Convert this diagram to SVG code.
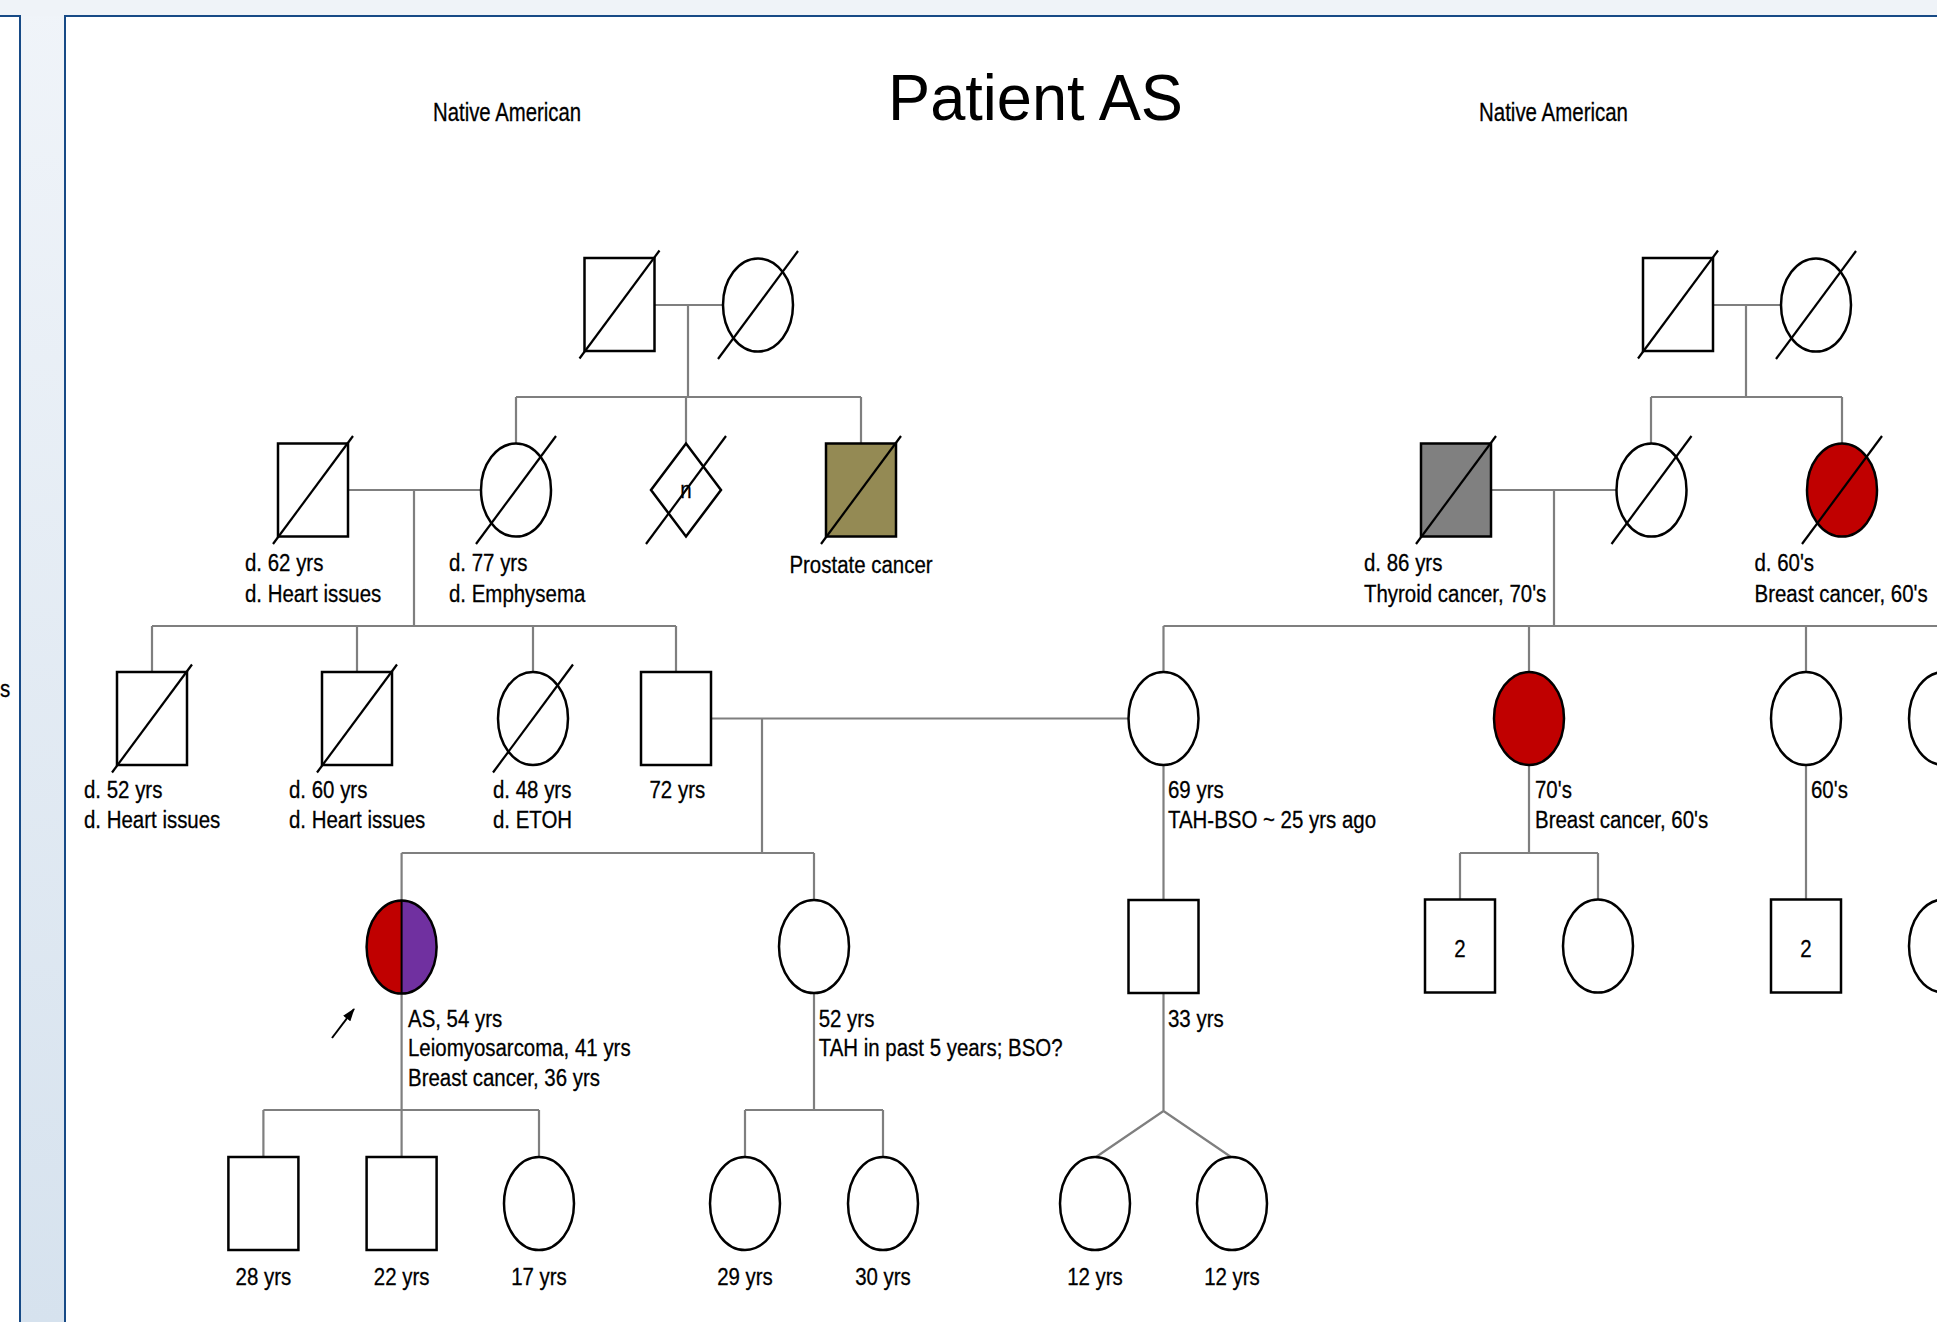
<svg xmlns="http://www.w3.org/2000/svg" xmlns:xlink="http://www.w3.org/1999/xlink" width="1937" height="1322" viewBox="0 0 1937 1322">
<defs>
<style>
.sym{fill:#fff;stroke:#000;stroke-width:2.5}
.sl{stroke:#000;stroke-width:2.2;fill:none}
.cn{stroke:#7f7f7f;stroke-width:2.2;fill:none}
.t{font-family:"Liberation Sans",Arial,sans-serif;font-size:24.5px;fill:#000;stroke:#000;stroke-width:0.3}
.tc{font-family:"Liberation Sans",Arial,sans-serif;font-size:24.5px;fill:#000;stroke:#000;stroke-width:0.3;text-anchor:middle}
</style>
<linearGradient id="bg" x1="0" y1="0" x2="0" y2="1">
<stop offset="0" stop-color="#f0f4f9"/>
<stop offset="1" stop-color="#d6e2ee"/>
</linearGradient>
<line id="slash" x1="-40" y1="54" x2="40" y2="-54" class="sl"/>
<rect id="sq" x="-35" y="-46.5" width="70" height="93"/>
<ellipse id="ci" rx="35" ry="46.5"/>
<marker id="ah" markerWidth="13" markerHeight="9" refX="12" refY="4.5" orient="auto" markerUnits="userSpaceOnUse">
<path d="M0,0 L13,4.5 L0,9 Z" fill="#000"/>
</marker>
</defs>

<!-- background -->
<rect x="0" y="0" width="1937" height="1322" fill="url(#bg)"/>
<rect x="0" y="0" width="1937" height="16" fill="#eff3f8"/>
<rect x="-10" y="16" width="30" height="1320" fill="#fff" stroke="#174a86" stroke-width="2"/>
<rect x="65" y="16" width="1890" height="1320" fill="#fff" stroke="#174a86" stroke-width="2"/>
<text class="t" transform="translate(0,697) scale(0.835,1)">s</text>

<!-- titles -->
<text x="888" y="120" font-family="Liberation Sans, Arial, sans-serif" font-size="65" textLength="295" lengthAdjust="spacingAndGlyphs">Patient AS</text>
<text x="433" y="121" font-family="Liberation Sans, Arial, sans-serif" font-size="26" stroke="#000" stroke-width="0.3" textLength="148" lengthAdjust="spacingAndGlyphs">Native American</text>
<text x="1479" y="121" font-family="Liberation Sans, Arial, sans-serif" font-size="26" stroke="#000" stroke-width="0.3" textLength="149" lengthAdjust="spacingAndGlyphs">Native American</text>

<!-- connectors -->
<g id="connectors">
<path class="cn" d="M654,305H723 M688,305V397 M516,397H861 M516,397V443 M686,397V443 M861,397V443"/>
<path class="cn" d="M1713,305H1781 M1746,305V397 M1651,397H1842 M1651,397V443 M1842,397V443"/>
<path class="cn" d="M348,490H481 M414,490V626 M152,626H676 M152,626V672 M357,626V672 M533,626V672 M676,626V672"/>
<path class="cn" d="M1491,490H1617 M1554,490V626 M1163.5,626H1950 M1163.5,626V672 M1529,626V672 M1806,626V672 M1944,626V672"/>
<path class="cn" d="M711,718.5H1128.5 M762,718.5V853 M401.6,853H814 M401.6,853V1157 M814,853V900"/>
<path class="cn" d="M1163.5,765V900"/>
<path class="cn" d="M1529,765V853 M1460,853H1598 M1460,853V899 M1598,853V899 M1806,765V899 M1944,765V899"/>
<path class="cn" d="M263.4,1110H539 M263.4,1110V1157 M539,1110V1157"/>
<path class="cn" d="M814,993V1110 M745,1110H883 M745,1110V1157 M883,1110V1157"/>
<path class="cn" d="M1163.5,993V1111 M1163.5,1111L1096,1157 M1163.5,1111L1231,1157"/>
<line x1="332" y1="1038" x2="354" y2="1009" stroke="#000" stroke-width="2" marker-end="url(#ah)"/>
</g>

<!-- Generation I -->
<g id="gf_left"><g transform="translate(619.5,304.5)"><use href="#sq" class="sym"/><use href="#slash"/></g></g>
<g id="gm_left"><g transform="translate(758,305)"><use href="#ci" class="sym"/><use href="#slash"/></g></g>
<g id="gf_right"><g transform="translate(1678,304.5)"><use href="#sq" class="sym"/><use href="#slash"/></g></g>
<g id="gm_right"><g transform="translate(1816,305)"><use href="#ci" class="sym"/><use href="#slash"/></g></g>

<!-- Generation II -->
<g id="pgf"><g transform="translate(313,490)"><use href="#sq" class="sym"/><use href="#slash"/></g>
<text class="t" transform="translate(245,571) scale(0.835,1)"><tspan x="0">d. 62 yrs</tspan><tspan x="0" dy="31">d. Heart issues</tspan></text></g>
<g id="pgm"><g transform="translate(516,490)"><use href="#ci" class="sym"/><use href="#slash"/></g>
<text class="t" transform="translate(449,571) scale(0.835,1)"><tspan x="0">d. 77 yrs</tspan><tspan x="0" dy="31">d. Emphysema</tspan></text></g>
<g id="sib_n"><g transform="translate(686,490)"><path d="M0,-46.5L35,0L0,46.5L-35,0Z" class="sym"/><use href="#slash"/></g>
<text class="tc" transform="translate(686,498) scale(0.835,1)">n</text></g>
<g id="prostate"><g transform="translate(861,490)"><use href="#sq" class="sym" style="fill:#948a54"/><use href="#slash"/></g>
<text class="tc" transform="translate(861,573) scale(0.835,1)">Prostate cancer</text></g>

<g id="mgf"><g transform="translate(1456,490)"><use href="#sq" class="sym" style="fill:#808080"/><use href="#slash"/></g>
<text class="t" transform="translate(1364,571) scale(0.835,1)"><tspan x="0">d. 86 yrs</tspan><tspan x="0" dy="31">Thyroid cancer, 70's</tspan></text></g>
<g id="mgm"><g transform="translate(1651.5,490)"><use href="#ci" class="sym"/><use href="#slash"/></g></g>
<g id="ggaunt"><g transform="translate(1842,490)"><use href="#ci" class="sym" style="fill:#c00000"/><use href="#slash"/></g>
<text class="t" transform="translate(1754.5,571) scale(0.835,1)"><tspan x="0">d. 60's</tspan><tspan x="0" dy="31">Breast cancer, 60's</tspan></text></g>

<!-- Generation III -->
<g id="uncle1"><g transform="translate(152,718.5)"><use href="#sq" class="sym"/><use href="#slash"/></g>
<text class="t" transform="translate(84,798) scale(0.835,1)"><tspan x="0">d. 52 yrs</tspan><tspan x="0" dy="30">d. Heart issues</tspan></text></g>
<g id="uncle2"><g transform="translate(357,718.5)"><use href="#sq" class="sym"/><use href="#slash"/></g>
<text class="t" transform="translate(289,798) scale(0.835,1)"><tspan x="0">d. 60 yrs</tspan><tspan x="0" dy="30">d. Heart issues</tspan></text></g>
<g id="aunt_p"><g transform="translate(533,718.5)"><use href="#ci" class="sym"/><use href="#slash"/></g>
<text class="t" transform="translate(493,798) scale(0.835,1)"><tspan x="0">d. 48 yrs</tspan><tspan x="0" dy="30">d. ETOH</tspan></text></g>
<g id="father"><g transform="translate(676,718.5)"><use href="#sq" class="sym"/></g>
<text class="t" transform="translate(649.5,798) scale(0.835,1)">72 yrs</text></g>
<g id="mother"><g transform="translate(1163.5,718.5)"><use href="#ci" class="sym"/></g>
<text class="t" transform="translate(1168,798) scale(0.835,1)"><tspan x="0">69 yrs</tspan><tspan x="0" dy="30">TAH-BSO ~ 25 yrs ago</tspan></text></g>
<g id="aunt_m1"><g transform="translate(1529,718.5)"><use href="#ci" class="sym" style="fill:#c00000"/></g>
<text class="t" transform="translate(1535,798) scale(0.835,1)"><tspan x="0">70's</tspan><tspan x="0" dy="30">Breast cancer, 60's</tspan></text></g>
<g id="aunt_m2"><g transform="translate(1806,718.5)"><use href="#ci" class="sym"/></g>
<text class="t" transform="translate(1811,798) scale(0.835,1)">60's</text></g>
<g id="aunt_m3"><g transform="translate(1944,718.5)"><use href="#ci" class="sym"/></g></g>

<!-- Generation IV -->
<g id="proband">
<path d="M401.6,900.5 A35,46.5 0 0 0 401.6,993.5 Z" fill="#c00000"/>
<path d="M401.6,900.5 A35,46.5 0 0 1 401.6,993.5 Z" fill="#7030a0"/>
<ellipse cx="401.6" cy="947" rx="35" ry="46.5" fill="none" stroke="#000" stroke-width="2.5"/>
<line x1="401.6" y1="900.5" x2="401.6" y2="993.5" stroke="#000" stroke-width="2"/>
<text class="t" transform="translate(408,1027) scale(0.835,1)"><tspan x="0">AS, 54 yrs</tspan><tspan x="0" dy="29.5">Leiomyosarcoma, 41 yrs</tspan><tspan x="0" dy="29.5">Breast cancer, 36 yrs</tspan></text></g>
<g id="sister"><g transform="translate(814,946.5)"><use href="#ci" class="sym"/></g>
<text class="t" transform="translate(818.7,1027) scale(0.835,1)"><tspan x="0">52 yrs</tspan><tspan x="0" dy="29.5">TAH in past 5 years; BSO?</tspan></text></g>
<g id="halfbrother"><g transform="translate(1163.5,946.5)"><use href="#sq" class="sym"/></g>
<text class="t" transform="translate(1168,1027) scale(0.835,1)">33 yrs</text></g>
<g id="cousins1"><g transform="translate(1460,946)"><use href="#sq" class="sym"/></g>
<text class="tc" transform="translate(1460,957) scale(0.835,1)">2</text></g>
<g id="cousin2"><g transform="translate(1598,946)"><use href="#ci" class="sym"/></g></g>
<g id="cousins3"><g transform="translate(1806,946)"><use href="#sq" class="sym"/></g>
<text class="tc" transform="translate(1806,957) scale(0.835,1)">2</text></g>
<g id="cousin4"><g transform="translate(1944,946)"><use href="#ci" class="sym"/></g></g>

<!-- Generation V -->
<g id="son1"><g transform="translate(263.4,1203.5)"><use href="#sq" class="sym"/></g>
<text class="tc" transform="translate(263.4,1285) scale(0.835,1)">28 yrs</text></g>
<g id="son2"><g transform="translate(401.6,1203.5)"><use href="#sq" class="sym"/></g>
<text class="tc" transform="translate(401.6,1285) scale(0.835,1)">22 yrs</text></g>
<g id="daughter"><g transform="translate(539,1203.5)"><use href="#ci" class="sym"/></g>
<text class="tc" transform="translate(539,1285) scale(0.835,1)">17 yrs</text></g>
<g id="niece1"><g transform="translate(745,1203.5)"><use href="#ci" class="sym"/></g>
<text class="tc" transform="translate(745,1285) scale(0.835,1)">29 yrs</text></g>
<g id="niece2"><g transform="translate(883,1203.5)"><use href="#ci" class="sym"/></g>
<text class="tc" transform="translate(883,1285) scale(0.835,1)">30 yrs</text></g>
<g id="twin1"><g transform="translate(1095,1203.5)"><use href="#ci" class="sym"/></g>
<text class="tc" transform="translate(1095,1285) scale(0.835,1)">12 yrs</text></g>
<g id="twin2"><g transform="translate(1232,1203.5)"><use href="#ci" class="sym"/></g>
<text class="tc" transform="translate(1232,1285) scale(0.835,1)">12 yrs</text></g>
</svg>
